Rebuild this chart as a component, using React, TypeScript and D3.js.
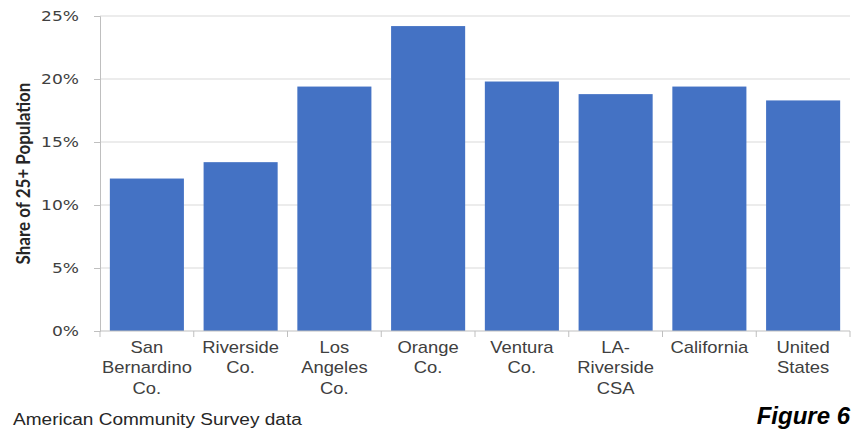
import React, { useEffect, useRef } from 'react';
import * as d3 from 'd3';

// Share of 25+ population, by area
const categories = [
    ['San', 'Bernardino', 'Co.'],
    ['Riverside', 'Co.'],
    ['Los', 'Angeles', 'Co.'],
    ['Orange', 'Co.'],
    ['Ventura', 'Co.'],
    ['LA-', 'Riverside', 'CSA'],
    ['California'],
    ['United', 'States'],
];
const shares = [12.1, 13.4, 19.4, 24.2, 19.8, 18.8, 19.4, 18.3];
const yTicks = [0, 5, 10, 15, 20, 25];

const SANS = '"Liberation Sans", Arial, sans-serif';
// the source picture is a bit stretched sideways, text too
const STRETCH = 1.15;

const App = () => {
    const svgRef = useRef<SVGSVGElement>(null);

    useEffect(() => {
        const width = 851;
        const height = 430;
        const margin = { top: 16, right: 1, bottom: 99, left: 100 };
        const innerWidth = width - margin.left - margin.right;
        const innerHeight = height - margin.top - margin.bottom;

        const root = d3.select(svgRef.current);
        root.selectAll('*').remove();
        root.attr('width', width).attr('height', height);

        const svg = root.append('g')
            .attr('transform', `translate(${margin.left},${margin.top})`);

        const keys = categories.map((_, i) => i);
        const x = d3.scaleBand<number>()
            .domain(keys)
            .range([0, innerWidth])
            .paddingInner(0.21)
            .paddingOuter(0.105);

        const y = d3.scaleLinear()
            .domain([0, 25])
            .range([innerHeight, 0]);

        // Gridlines
        svg.append('g')
            .selectAll('line')
            .data(yTicks.filter(t => t > 0))
            .enter()
            .append('line')
            .attr('x1', 0)
            .attr('x2', innerWidth)
            .attr('y1', d => y(d))
            .attr('y2', d => y(d))
            .attr('stroke', '#d9d9d9')
            .attr('stroke-width', 1.2);

        // Bars
        svg.append('g')
            .selectAll('rect')
            .data(shares)
            .enter()
            .append('rect')
            .attr('x', (_, i) => x(i)!)
            .attr('y', d => y(d))
            .attr('width', x.bandwidth())
            .attr('height', d => innerHeight - y(d))
            .attr('fill', '#4472c4');

        // Y axis
        const yAxis = d3.axisLeft(y)
            .tickValues(yTicks)
            .tickSize(6)
            .tickFormat(d => `${d}%`);

        const yg = svg.append('g').call(yAxis);
        yg.select('.domain').attr('stroke', '#bfbfbf');
        yg.selectAll('.tick line').attr('stroke', '#bfbfbf');
        yg.selectAll('.tick text')
            .attr('x', 0)
            .attr('transform', 'translate(-21,0) scale(1.22,1)')
            .attr('fill', '#404040')
            .style('font-family', '"DejaVu Sans", Verdana, sans-serif')
            .style('font-size', '14px');

        // X axis baseline + category ticks
        const step = innerWidth / categories.length;
        const xg = svg.append('g').attr('transform', `translate(0,${innerHeight})`);
        xg.append('line')
            .attr('x1', 0)
            .attr('x2', innerWidth)
            .attr('stroke', '#bfbfbf');
        xg.selectAll('line.tk')
            .data(d3.range(categories.length + 1))
            .enter()
            .append('line')
            .attr('class', 'tk')
            .attr('x1', d => d * step)
            .attr('x2', d => d * step)
            .attr('y1', 0)
            .attr('y2', 6)
            .attr('stroke', '#bfbfbf');

        // Category labels
        categories.forEach((lines, i) => {
            const t = xg.append('text')
                .attr('transform', `translate(${x(i)! + x.bandwidth() / 2},22) scale(${STRETCH},1)`)
                .attr('text-anchor', 'middle')
                .attr('fill', '#404040')
                .style('font-family', SANS)
                .style('font-size', '16px');
            lines.forEach((ln, j) => {
                t.append('tspan')
                    .attr('x', 0)
                    .attr('dy', j === 0 ? 0 : 20.5)
                    .text(ln);
            });
        });

        // Y axis title
        root.append('text')
            .attr('transform', `translate(30,${margin.top + innerHeight / 2}) scale(1.15,1) rotate(-90)`)
            .attr('text-anchor', 'middle')
            .attr('fill', '#262626')
            .style('font-family', 'Lato, "Open Sans", sans-serif')
            .style('font-weight', 'bold')
            .style('font-size', '17px')
            .text('Share of 25+ Population');

        // Footer
        root.append('text')
            .attr('transform', `translate(13,425) scale(1.19,1)`)
            .attr('fill', '#262626')
            .style('font-family', SANS)
            .style('font-size', '16px')
            .text('American Community Survey data');

        root.append('text')
            .attr('x', 850)
            .attr('y', 424)
            .attr('text-anchor', 'end')
            .attr('fill', '#000')
            .style('font-family', SANS)
            .style('font-weight', 'bold')
            .style('font-style', 'italic')
            .style('font-size', '24px')
            .text('Figure 6');
    }, []);

    return (
        <div style={{ position: 'absolute', left: 0, top: 0, background: '#fff' }}>
            <svg ref={svgRef}></svg>
        </div>
    );
};

export default App;
